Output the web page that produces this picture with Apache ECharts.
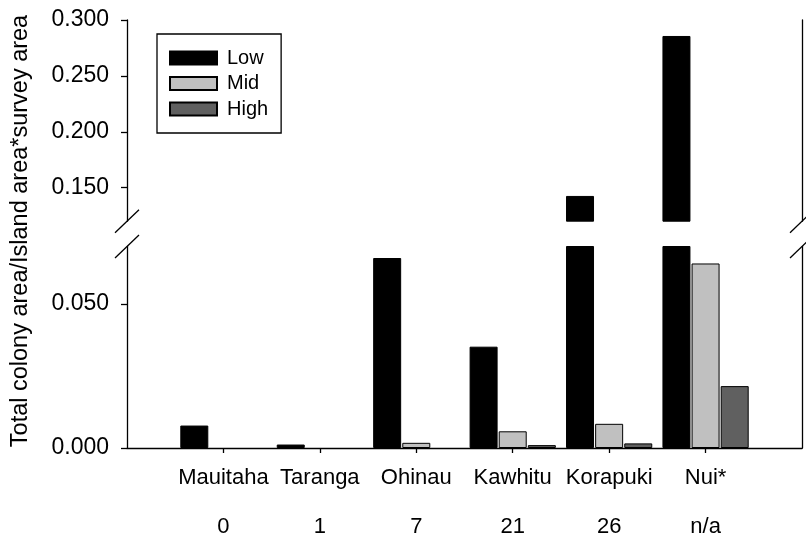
<!DOCTYPE html>
<html><head><meta charset="utf-8">
<script src="https://cdn.jsdelivr.net/npm/echarts@6/dist/echarts.min.js"></script>
<style>html,body{margin:0;padding:0;background:#fff}#c{width:806px;height:540px}</style>
</head><body><div id="c"></div>
<script>
const categories = ['Mauitaha', 'Taranga', 'Ohinau', 'Kawhitu', 'Korapuki', 'Nui*'];
const subLabels = ['0', '1', '7', '21', '26', 'n/a'];
const lowValues = [0.0078, 0.0012, 0.066, 0.0352, 0.1426, 0.2857];
const midValues = [0, 0, 0.0018, 0.0058, 0.0084, 0.0641];
const highValues = [0, 0, 0, 0.0010, 0.0016, 0.0215];
const upperTicks = [0.15, 0.20, 0.25, 0.30];
const lowerTicks = [0, 0.05];
const upperRange = [0.12, 0.30];
const lowerRange = [0, 0.07];
const yTitle = 'Total colony area/Island area*survey area';

const FONT = 'Liberation Sans, Arial, Helvetica, sans-serif';
const xData = [''].concat(categories, ['']);
const pad = arr => ['-'].concat(arr, ['-']);
const upperData = arr => pad(arr.map(v => v >= upperRange[0] ? v : '-'));
const lowerData = arr => pad(arr.map(v => v > 0 ? v : '-'));

const colors = { Low: '#000000', Mid: '#c0c0c0', High: '#606060' };
const valuesByName = { Low: lowValues, Mid: midValues, High: highValues };

const series = [];
['Low', 'Mid', 'High'].forEach(name => {
  const base = {
    name, type: 'bar', barWidth: 28, barGap: '4%',
    itemStyle: { color: colors[name], borderColor: '#000', borderWidth: 1 },
    emphasis: { disabled: true }
  };
  series.push(Object.assign({}, base, { xAxisIndex: 0, yAxisIndex: 0, data: upperData(valuesByName[name]) }));
  series.push(Object.assign({}, base, { xAxisIndex: 1, yAxisIndex: 2, data: lowerData(valuesByName[name]) }));
});

const axisLineStyle = { show: true, onZero: false, lineStyle: { color: '#000', width: 1.3 } };
const leftY = (gi, range, ticks) => ({
  type: 'value', gridIndex: gi, position: 'left', min: range[0], max: range[1],
  axisLine: axisLineStyle,
  axisTick: { show: true, length: 6, customValues: ticks, lineStyle: { color: '#000', width: 1.3 } },
  axisLabel: { show: true, customValues: ticks, margin: 18, fontSize: 23, color: '#000', fontFamily: FONT,
    formatter: v => Number(v).toFixed(3) },
  splitLine: { show: false }
});
const rightY = (gi, range) => ({
  type: 'value', gridIndex: gi, position: 'right', min: range[0], max: range[1],
  axisLine: axisLineStyle, axisTick: { show: false }, axisLabel: { show: false }, splitLine: { show: false }
});

const chart = echarts.init(document.getElementById('c'), null, { renderer: 'canvas' });
chart.setOption({
  animation: false,
  backgroundColor: '#fff',
  grid: [
    { left: 127, right: 4, top: 20, height: 201.2, outerBoundsMode: 'none', containLabel: false },
    { left: 127, right: 4, top: 246.5, height: 201.5, outerBoundsMode: 'none', containLabel: false }
  ],
  xAxis: [
    { type: 'category', gridIndex: 0, data: xData, boundaryGap: false,
      axisLine: { show: false }, axisTick: { show: false }, axisLabel: { show: false }, splitLine: { show: false } },
    { type: 'category', gridIndex: 1, data: xData, boundaryGap: false,
      axisLine: axisLineStyle,
      axisTick: { show: true, length: 5, interval: (i) => i > 0 && i <= categories.length, lineStyle: { color: '#000', width: 1.3 } },
      axisLabel: { show: true, interval: (i) => i > 0 && i <= categories.length, margin: 5.5,
        fontSize: 22, lineHeight: 49, color: '#000', fontFamily: FONT,
        formatter: (v, i) => (i > 0 && i <= categories.length) ? categories[i - 1] + '\n' + subLabels[i - 1] : '' },
      splitLine: { show: false } }
  ],
  yAxis: [
    leftY(0, upperRange, upperTicks), rightY(0, upperRange),
    leftY(1, lowerRange, lowerTicks), rightY(1, lowerRange)
  ],
  legend: {
    data: ['Low', 'Mid', 'High'], orient: 'vertical', left: 157, top: 34,
    icon: 'rect', itemWidth: 47, itemHeight: 13, itemGap: 5.5,
    padding: [14, 13, 14, 12], borderColor: '#000', borderWidth: 1.3, borderRadius: 0,
    backgroundColor: '#fff', selectedMode: false,
    textStyle: { fontSize: 20, color: '#000', fontFamily: FONT, padding: [0, 0, 0, 5] }
  },
  series
});

const yB = chart.convertToPixel({ yAxisIndex: 0 }, upperRange[0]);
const yT = chart.convertToPixel({ yAxisIndex: 2 }, lowerRange[1]);
const xL = chart.convertToPixel({ xAxisIndex: 1 }, 0);
const xR = chart.convertToPixel({ xAxisIndex: 1 }, xData.length - 1);
const slash = (x, y) => ({ type: 'line', shape: { x1: x - 12, y1: y + 11.5, x2: x + 12, y2: y - 11.5 },
  style: { stroke: '#000', lineWidth: 1.3 }, z: 100 });
chart.setOption({
  graphic: [
    slash(xL, yB), slash(xL, yT), slash(xR, yB), slash(xR, yT),
    { type: 'text', x: 21, y: 231, rotation: Math.PI / 2, z: 100,
      style: { text: yTitle, font: '23.5px ' + FONT, fill: '#000', align: 'center', verticalAlign: 'middle' } }
  ]
});
</script></body></html>
